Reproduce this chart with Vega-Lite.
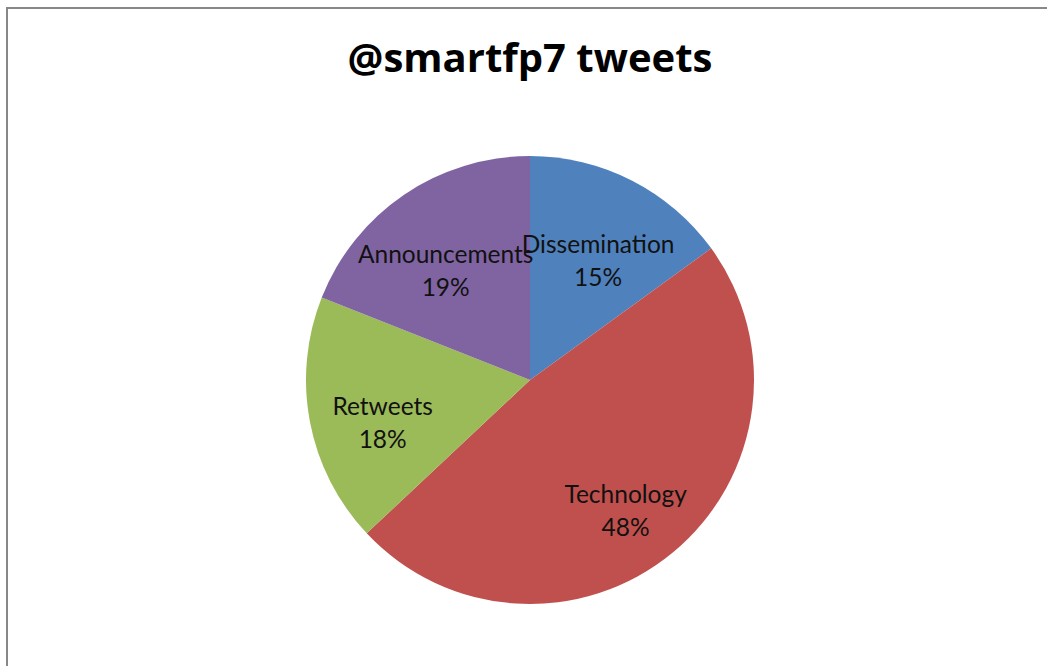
{
  "$schema": "https://vega.github.io/schema/vega-lite/v6.json",
  "autosize": {"type": "none"},
  "padding": {"left": 7, "top": 8, "right": 0, "bottom": 0},
  "width": 1046,
  "height": 744,
  "background": "white",
  "view": {"stroke": "#888888", "strokeWidth": 2, "fill": "white"},
  "title": {
    "text": "@smartfp7 tweets",
    "font": "Open Sans",
    "fontSize": 40,
    "fontWeight": "bold",
    "color": "#000000",
    "anchor": "middle",
    "frame": "group",
    "baseline": "alphabetic",
    "offset": -104
  },
  "data": {
    "values": [
      {"category": "Dissemination", "value": 15, "i": 1},
      {"category": "Technology", "value": 48, "i": 2},
      {"category": "Retweets", "value": 18, "i": 3},
      {"category": "Announcements", "value": 19, "i": 4}
    ]
  },
  "transform": [
    {"calculate": "datum.category + '\\n' + datum.value + '%'", "as": "label"}
  ],
  "encoding": {
    "theta": {"field": "value", "type": "quantitative", "stack": true},
    "order": {"field": "i", "type": "quantitative"},
    "color": {
      "field": "category",
      "type": "nominal",
      "scale": {
        "domain": ["Dissemination", "Technology", "Retweets", "Announcements"],
        "range": ["#4F81BD", "#C0504D", "#9BBB59", "#8064A2"]
      },
      "legend": null
    }
  },
  "layer": [
    {"mark": {"type": "arc", "outerRadius": 224}},
    {
      "mark": {"type": "text", "radius": 150, "font": "Lato", "fontSize": 24.5, "lineBreak": "\n", "lineHeight": 33, "align": "center", "baseline": "middle", "color": "#111111"},
      "encoding": {
        "text": {"field": "label"},
        "color": {"value": "#111111"}
      }
    }
  ]
}
